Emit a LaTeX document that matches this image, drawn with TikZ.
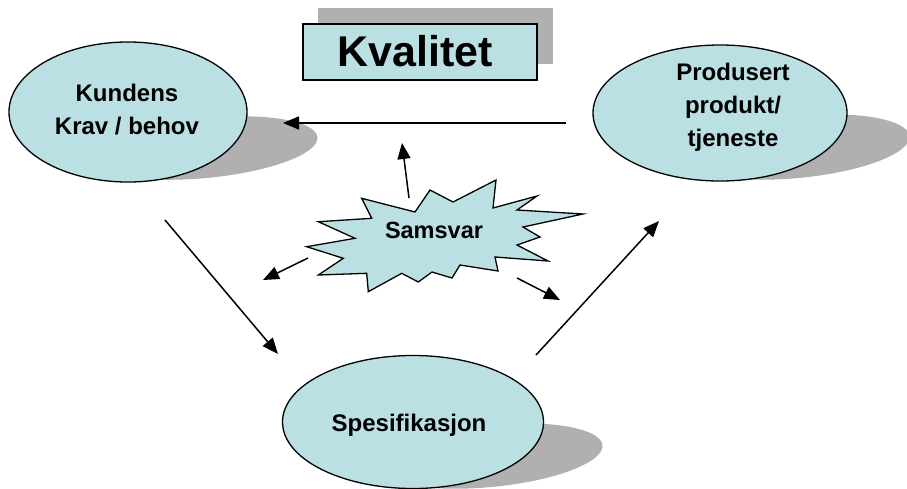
\documentclass[tikz,border=0pt]{standalone}
\usepackage{fontspec}
\setmainfont{Liberation Sans}
\usetikzlibrary{arrows.meta,shapes.geometric}
\definecolor{fillblue}{RGB}{187,224,228}
\definecolor{shadowgray}{RGB}{176,176,176}
\begin{document}
\begin{tikzpicture}[x=1pt,y=-1pt,
  bubble/.style={draw=black, line width=1.3pt, fill=fillblue, ellipse, inner sep=0pt},
  shade/.style={fill=shadowgray},
  lbl/.style={font=\bfseries\fontsize{24}{33}\selectfont, align=center, inner sep=0pt},
  conn/.style={line width=1.5pt, -{Triangle[length=16pt,width=13pt]}}]
\useasboundingbox (0,0) rectangle (907,488);
% shadows
\fill[shade, rotate around={5.5:(205,148)}] (205,148) ellipse [x radius=113pt, y radius=30pt];
\fill[shade, rotate around={5.5:(797,147)}] (797,147) ellipse [x radius=113pt, y radius=31pt];
\fill[shade, rotate around={5.5:(490,456)}] (490,456) ellipse [x radius=113pt, y radius=31pt];
\fill[shade] (318,8) rectangle (553,64);
% ellipses
\node[bubble, minimum width=238pt, minimum height=140pt] (kunde) at (128,112) {};
\node[bubble, minimum width=254pt, minimum height=136pt] (produkt) at (720,113) {};
\node[bubble, minimum width=261pt, minimum height=133pt] (spes) at (413,422) {};
\node[lbl] (kundetxt) at (127,110) {Kundens\\Krav / behov};
\node[lbl] (produkttxt) at (733,107.5) {Produsert\\produkt/\\tjeneste};
\node[lbl] (spestxt) at (409,425.5) {Spesifikasjon};
% Kvalitet box
\node[draw, line width=1.5pt, fill=fillblue, minimum width=234pt, minimum height=56pt, inner sep=0pt] (kvalbox) at (420,52) {};
\node[font=\bfseries\fontsize{43}{50}\selectfont, inner sep=0pt] (kvaltxt) at (415.5,51.3) {Kvalitet};
% starburst
\draw[line width=1.3pt, fill=fillblue, line join=miter]
 (361.7,198.3) -- (371.7,218.3) -- (318.3,221.7) -- (355,238.3) -- (306.7,246.7)
 -- (343.3,258.3) -- (318.3,275) -- (366.7,273.3) -- (368.3,291.7) -- (401.7,273.3)
 -- (418.3,282) -- (432,272) -- (452,278) -- (460,265) -- (498,271) -- (495,257)
 -- (548,261) -- (517,245) -- (540,237) -- (523,227) -- (583,214) -- (517,210)
 -- (537,196) -- (493,208) -- (496,180) -- (453,202) -- (430,190) -- (415,212) -- cycle;
\node[font=\bfseries\fontsize{23.5}{28}\selectfont, inner sep=0pt] (samsvar) at (434,230.6) {Samsvar};
% connector ends
\coordinate (h1) at (566,123); \coordinate (h2) at (283,123);
\coordinate (d1a) at (165,220); \coordinate (d1b) at (278,354);
\coordinate (d2a) at (536,355); \coordinate (d2b) at (659,221);
\coordinate (ua) at (409,198); \coordinate (ub) at (402,143);
\coordinate (la) at (308,258); \coordinate (lb) at (263,280);
\coordinate (ra) at (517,278); \coordinate (rb) at (560,300);
\draw[conn] (h1) -- (h2);
\draw[conn] (d1a) -- (d1b);
\draw[conn] (d2a) -- (d2b);
\draw[conn] (ua) -- (ub);
\draw[conn] (la) -- (lb);
\draw[conn] (ra) -- (rb);
\end{tikzpicture}
\end{document}
